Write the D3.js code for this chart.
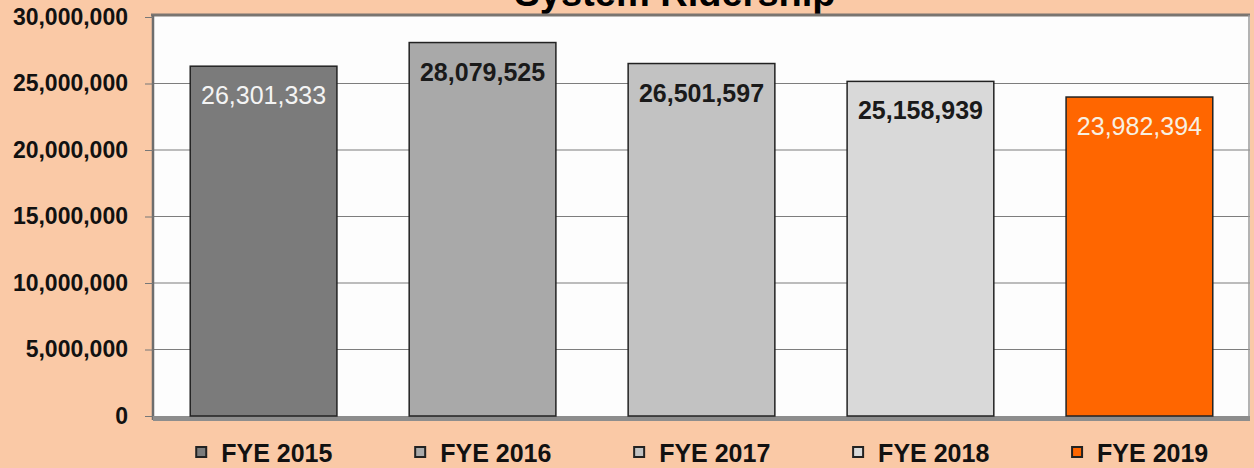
<!DOCTYPE html>
<html lang="en">
<head>
<meta charset="UTF-8">
<script src="https://cdn.jsdelivr.net/npm/d3@7"></script>
<title>System Ridership</title>
<style>
    body { margin: 0; background: #fac9a6; }
    svg { display: block; font-family: Arial, 'Liberation Sans', sans-serif; }
</style>
</head>
<body>
<div id="chart"></div>
<script>
    const years = ["FYE 2015", "FYE 2016", "FYE 2017", "FYE 2018", "FYE 2019"];
    const ridership = [26301333, 28079525, 26501597, 25158939, 23982394];
    const barColors = ["#7b7b7b", "#a9a9a9", "#c2c2c2", "#d9d9d9", "#ff6600"];
    const labelColors = ["#f4f4f4", "#1a1a1a", "#1a1a1a", "#1a1a1a", "#f7f0e2"];
    const yTicks = [0, 5000000, 10000000, 15000000, 20000000, 25000000, 30000000];

    const width = 1254, height = 468;
    const plot = { left: 153, right: 1250, top: 17, bottom: 416 };

    const svg = d3.select("#chart").append("svg")
        .attr("width", width)
        .attr("height", height);

    svg.append("rect")
        .attr("width", width).attr("height", height)
        .attr("fill", "#fac9a6");

    const x = d3.scaleBand()
        .domain(years)
        .range([plot.left, plot.right])
        .paddingInner(0.33)
        .paddingOuter(0.17);

    const y = d3.scaleLinear()
        .domain([0, 30000000])
        .range([plot.bottom, plot.top]);

    // title, mostly cropped by the top edge like the source
    svg.append("text")
        .attr("x", 675).attr("y", 6)
        .attr("text-anchor", "middle")
        .attr("font-size", 38).attr("font-weight", "bold")
        .attr("fill", "#000")
        .text("System Ridership");

    // plot area
    svg.append("rect")
        .attr("x", plot.left).attr("y", plot.top - 2)
        .attr("width", plot.right - plot.left).attr("height", plot.bottom - plot.top + 6)
        .attr("fill", "#fdfdfd");

    // gridlines
    svg.append("g")
        .selectAll("line")
        .data(yTicks.slice(1, -1))
        .join("line")
        .attr("x1", plot.left).attr("x2", plot.right)
        .attr("y1", d => y(d)).attr("y2", d => y(d))
        .attr("stroke", "#7d7d7d").attr("stroke-width", 1.2);

    // frame
    svg.append("line")
        .attr("x1", plot.left - 2).attr("x2", plot.right)
        .attr("y1", plot.top - 2).attr("y2", plot.top - 2)
        .attr("stroke", "#7a7570").attr("stroke-width", 3);
    svg.append("line")
        .attr("x1", plot.left).attr("x2", plot.left)
        .attr("y1", plot.top - 2).attr("y2", plot.bottom + 4)
        .attr("stroke", "#6e6e6e").attr("stroke-width", 2.5);
    svg.append("line")
        .attr("x1", plot.right - 1).attr("x2", plot.right - 1)
        .attr("y1", plot.top - 2).attr("y2", plot.bottom + 4)
        .attr("stroke", "#9a9a9a").attr("stroke-width", 1.5);
    svg.append("rect")
        .attr("x", plot.left).attr("y", plot.bottom)
        .attr("width", plot.right - plot.left).attr("height", 5)
        .attr("fill", "#8d8d8d");

    // y axis
    const yAxis = svg.append("g")
        .attr("transform", `translate(${plot.left},0)`)
        .call(d3.axisLeft(y).tickValues(yTicks).tickFormat(d3.format(",")).tickSize(8).tickPadding(17));
    yAxis.select(".domain").remove();
    yAxis.selectAll(".tick line").attr("stroke", "#777");
    yAxis.selectAll(".tick text")
        .attr("font-size", 23).attr("font-weight", "bold")
        .attr("font-family", "Arial, 'Liberation Sans', sans-serif")
        .attr("fill", "#111");

    // bars
    svg.append("g")
        .selectAll("rect")
        .data(ridership)
        .join("rect")
        .attr("x", (d, i) => x(years[i]))
        .attr("y", d => y(d))
        .attr("width", x.bandwidth())
        .attr("height", d => y(0) - y(d))
        .attr("fill", (d, i) => barColors[i])
        .attr("stroke", "#222")
        .attr("stroke-width", 1.5);

    // value labels
    svg.append("g")
        .selectAll("text")
        .data(ridership)
        .join("text")
        .attr("x", (d, i) => x(years[i]) + x.bandwidth() / 2)
        .attr("y", d => y(d) + 38)
        .attr("text-anchor", "middle")
        .attr("font-size", 25)
        .attr("font-weight", (d, i) => (i === 0 || i === 4) ? "normal" : "bold")
        .attr("fill", (d, i) => labelColors[i])
        .text(d => d3.format(",")(d));

    // legend
    const legend = svg.append("g")
        .selectAll("g")
        .data(years)
        .join("g")
        .attr("transform", d => `translate(${x(d) + 6},453)`);
    legend.append("rect")
        .attr("x", 0).attr("y", -6)
        .attr("width", 10).attr("height", 10)
        .attr("fill", (d, i) => barColors[i])
        .attr("stroke", "#222").attr("stroke-width", 2);
    legend.append("text")
        .attr("x", 25).attr("y", 0)
        .attr("dy", "0.35em")
        .attr("font-size", 25).attr("font-weight", "bold")
        .attr("fill", "#111")
        .text(d => d);
</script>
</body>
</html>
